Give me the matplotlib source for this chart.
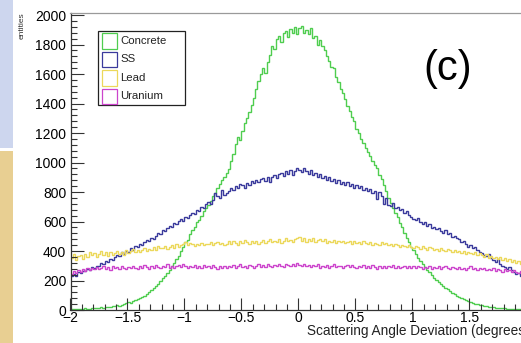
import numpy as np
import matplotlib
matplotlib.use("Agg")
import matplotlib.pyplot as plt
from matplotlib.patches import Rectangle

plt.rcParams['font.family'] = ['Liberation Sans', 'DejaVu Sans']

# ---- data: 200 bins from -2 to 2 (bin width 0.02) ----
bin_edges_range = (-2.0, 2.0)
n_bins = 200

concrete = [
    4, 7, 5, 9, 6, 8, 11, 7, 10, 12,
    11, 14, 13, 17, 15, 19, 22, 20, 25, 28,
    31, 29, 36, 41, 45, 52, 49, 60, 66, 72,
    81, 90, 97, 110, 121, 134, 146, 163, 175, 196,
    214, 228, 252, 270, 296, 322, 346, 368, 402, 428,
    458, 476, 512, 540, 566, 596, 612, 640, 668, 690,
    712, 740, 772, 790, 826, 852, 880, 905, 928, 958,
    1010, 1060, 1125, 1170, 1150, 1215, 1270, 1300, 1345, 1390,
    1440, 1500, 1555, 1600, 1640, 1610, 1680, 1730, 1790, 1770,
    1840, 1860, 1820, 1875, 1890, 1850, 1905, 1880, 1920, 1870,
    1915, 1925, 1880, 1900, 1870, 1910, 1845, 1860, 1800, 1830,
    1790, 1760, 1720, 1690, 1650, 1640, 1580, 1545, 1500, 1470,
    1430, 1380, 1350, 1310, 1280, 1230, 1200, 1160, 1130, 1100,
    1070, 1045, 1010, 985, 960, 915, 890, 850, 810, 760,
    725, 690, 660, 630, 590, 560, 525, 490, 460, 425,
    405, 380, 352, 330, 310, 290, 270, 255, 236, 220,
    205, 192, 178, 165, 150, 140, 128, 118, 108, 98,
    90, 82, 74, 68, 60, 54, 49, 44, 40, 36,
    32, 29, 25, 23, 20, 18, 16, 15, 13, 12,
    11, 10, 9, 9, 8, 7, 8, 6, 7, 5,
]

ss = [
    228, 245, 232, 258, 250, 266, 262, 280, 272, 290,
    285, 300, 296, 318, 310, 330, 324, 345, 338, 356,
    372, 365, 390, 383, 402, 396, 418, 410, 432, 425,
    445, 438, 460, 472, 466, 488, 480, 505, 520, 512,
    540, 534, 556, 570, 562, 588, 580, 602, 615, 606,
    630, 622, 645, 660, 652, 680, 672, 700, 690, 718,
    735, 722, 748, 790, 770, 760, 812, 782, 795, 808,
    826, 815, 840, 828, 852, 845, 830, 862, 850, 872,
    860, 880, 868, 890, 895, 876, 905, 870, 900, 912,
    895, 920, 930, 908, 940, 925, 950, 915, 945, 960,
    948, 935, 962, 940, 925, 950, 912, 930, 905, 920,
    895, 910, 880, 900, 872, 885, 860, 880, 855, 870,
    850, 865, 840, 852, 830, 845, 825, 838, 815, 830,
    808, 822, 790, 810, 750, 800, 775, 720, 760, 712,
    705, 725, 690, 700, 675, 688, 660, 672, 645, 630,
    620, 608, 622, 596, 585, 600, 572, 580, 558, 565,
    548, 556, 535, 520, 540, 512, 525, 498, 505, 488,
    480, 462, 470, 445, 428, 440, 418, 425, 405, 392,
    385, 372, 365, 378, 350, 340, 326, 345, 315, 300,
    290, 278, 292, 268, 258, 245, 250, 232, 225, 215,
]

lead = [
    355, 382, 340, 365, 372, 348, 378, 360, 392, 370,
    385, 362, 380, 398, 372, 390, 368, 395, 375, 388,
    400, 378, 395, 372, 405, 385, 398, 412, 392, 405,
    395, 410, 420, 398, 415, 405, 425, 410, 432, 418,
    420, 435, 412, 428, 440, 422, 445, 430, 438, 450,
    462, 440, 452, 445, 436, 448, 442, 455, 438, 450,
    445, 458, 440, 452, 462, 445, 456, 438, 450, 465,
    448, 470, 455, 442, 468, 452, 475, 458, 446, 465,
    455, 470, 448, 462, 475, 452, 468, 480, 458, 470,
    462, 478, 455, 470, 485, 465, 475, 458, 482, 490,
    495, 470, 485, 462, 478, 468, 490, 460, 475, 482,
    465, 478, 455, 470, 462, 475, 452, 468, 458, 470,
    455, 462, 470, 448, 465, 452, 460, 445, 468, 455,
    448, 460, 442, 455, 450, 438, 458, 445, 452, 440,
    445, 432, 450, 438, 428, 442, 435, 425, 440, 430,
    420, 435, 428, 415, 432, 420, 410, 425, 418, 405,
    415, 402, 420, 408, 398, 412, 405, 395, 410, 392,
    400, 388, 402, 380, 395, 385, 378, 392, 370, 385,
    375, 362, 378, 355, 368, 350, 362, 345, 358, 340,
    350, 335, 345, 325, 340, 318, 330, 312, 325, 305,
]

uranium = [
    245, 262, 250, 270, 258, 275, 266, 282, 270, 288,
    276, 292, 280, 285, 300, 278, 290, 272, 295, 282,
    290, 278, 298, 285, 275, 292, 282, 300, 288, 278,
    295, 284, 305, 290, 280, 296, 286, 302, 292, 282,
    298, 290, 310, 288, 300, 282, 296, 305, 290, 312,
    295, 285, 300, 292, 308, 288, 296, 284, 302, 290,
    298, 286, 305, 292, 280, 296, 288, 300, 285, 295,
    290, 302, 288, 296, 310, 292, 300, 286, 305, 295,
    288, 300, 310, 294, 302, 290, 315, 298, 292, 306,
    296, 310, 300, 292, 315, 302, 295, 312, 300, 320,
    305, 298, 312, 295, 308, 290, 302, 296, 310, 288,
    300, 292, 305, 286, 298, 312, 290, 300, 295, 285,
    298, 306, 290, 302, 294, 285, 300, 292, 305, 288,
    296, 285, 302, 292, 280, 298, 288, 295, 284, 300,
    290, 305, 286, 296, 282, 292, 300, 285, 298, 288,
    295, 284, 300, 290, 278, 292, 285, 296, 280, 290,
    286, 295, 280, 290, 298, 284, 276, 292, 285, 278,
    290, 280, 288, 272, 285, 295, 278, 286, 270, 282,
    275, 288, 268, 280, 272, 285, 262, 278, 270, 260,
    275, 262, 270, 255, 268, 258, 250, 262, 248, 255,
]

series_names = ["Concrete", "SS", "Lead", "Uranium"]
series_values = [concrete, ss, lead, uranium]
series_colors = ["#4fcd4f", "#3a3a9c", "#ecd85a", "#cc44cc"]

x_ticks = [-2, -1.5, -1, -0.5, 0, 0.5, 1, 1.5]
x_ticklabels = ["\u22122", "\u22121.5", "\u22121", "\u22120.5", "0", "0.5", "1", "1.5"]
y_ticks = [0, 200, 400, 600, 800, 1000, 1200, 1400, 1600, 1800, 2000]

# ---- figure ----
W, H = 521, 343
fig = plt.figure(figsize=(W / 100, H / 100), dpi=100)
fig.patch.set_facecolor("white")


def fx(px):
    return px / W


def fy(py):
    return 1 - py / H


# left decorative strip (slide background)
fig.add_artist(Rectangle((0, fy(148)), fx(13), 148 / H, transform=fig.transFigure,
                         facecolor="#cdd6ee", edgecolor="none"))
fig.add_artist(Rectangle((0, 0), fx(13), fy(151), transform=fig.transFigure,
                         facecolor="#e8cf92", edgecolor="none"))

left_px, right_px = 70.5, 526.5
top_px, bottom_px = 12.5, 310.0
ax = fig.add_axes([fx(left_px), fy(bottom_px), (right_px - left_px) / W, (bottom_px - top_px) / H])

edges = np.linspace(bin_edges_range[0], bin_edges_range[1], n_bins + 1)
for name, vals, col in zip(series_names, series_values, series_colors):
    ax.stairs(vals, edges, color=col, lw=1.0, baseline=None)

ax.set_xlim(-2, 2)
ax.set_ylim(0, 2017)

ax.spines["right"].set_visible(False)
ax.spines["top"].set_color("#9a9a9a")
ax.spines["left"].set_color("#333333")
ax.spines["bottom"].set_color("#333333")
for s in ["top", "left", "bottom"]:
    ax.spines[s].set_linewidth(0.9)

ax.set_xticks(x_ticks)
ax.set_xticklabels(x_ticklabels)
ax.set_xticks(np.arange(-2, 2.001, 0.1), minor=True)
ax.set_yticks(y_ticks)
ax.set_yticks(np.arange(0, 2001, 40), minor=True)
ax.tick_params(which="major", direction="in", length=9, width=0.8, color="#333333",
               labelsize=10)
ax.tick_params(which="minor", direction="in", length=4.5, width=0.8, color="#333333")
ax.tick_params(axis="y", pad=3)
ax.tick_params(axis="x", pad=1.0)

# legend (ROOT-style box drawn by hand)
box_l, box_r, box_t, box_b = 98.3, 185.0, 30.7, 105.3
fig.add_artist(Rectangle((fx(box_l), fy(box_b)), (box_r - box_l) / W, (box_b - box_t) / H,
                         transform=fig.transFigure, facecolor="white",
                         edgecolor="#222222", linewidth=0.9, zorder=5))
row_centers = [41.0, 59.5, 78.0, 96.5]
for name, col, yc in zip(series_names, series_colors, row_centers):
    fig.add_artist(Rectangle((fx(101.7), fy(yc + 7.5)), 15 / W, 15 / H,
                             transform=fig.transFigure, facecolor="white",
                             edgecolor=col, linewidth=0.9, zorder=6))
    fig.text(fx(120), fy(yc), name, fontsize=8.2, ha="left", va="center",
             color="#222222", zorder=7)

# panel tag
fig.text(fx(448), fy(69), "(c)", fontsize=30, ha="center", va="center", color="black")

# axis titles
fig.text(fx(22), fy(12), "entities", fontsize=6, rotation=90, ha="center", va="top",
         color="#333333")
fig.text(fx(307), fy(331.5), "Scattering Angle Deviation (degrees)", fontsize=9.8,
         ha="left", va="center", color="#222222")

fig.savefig("out.png", dpi=100)
